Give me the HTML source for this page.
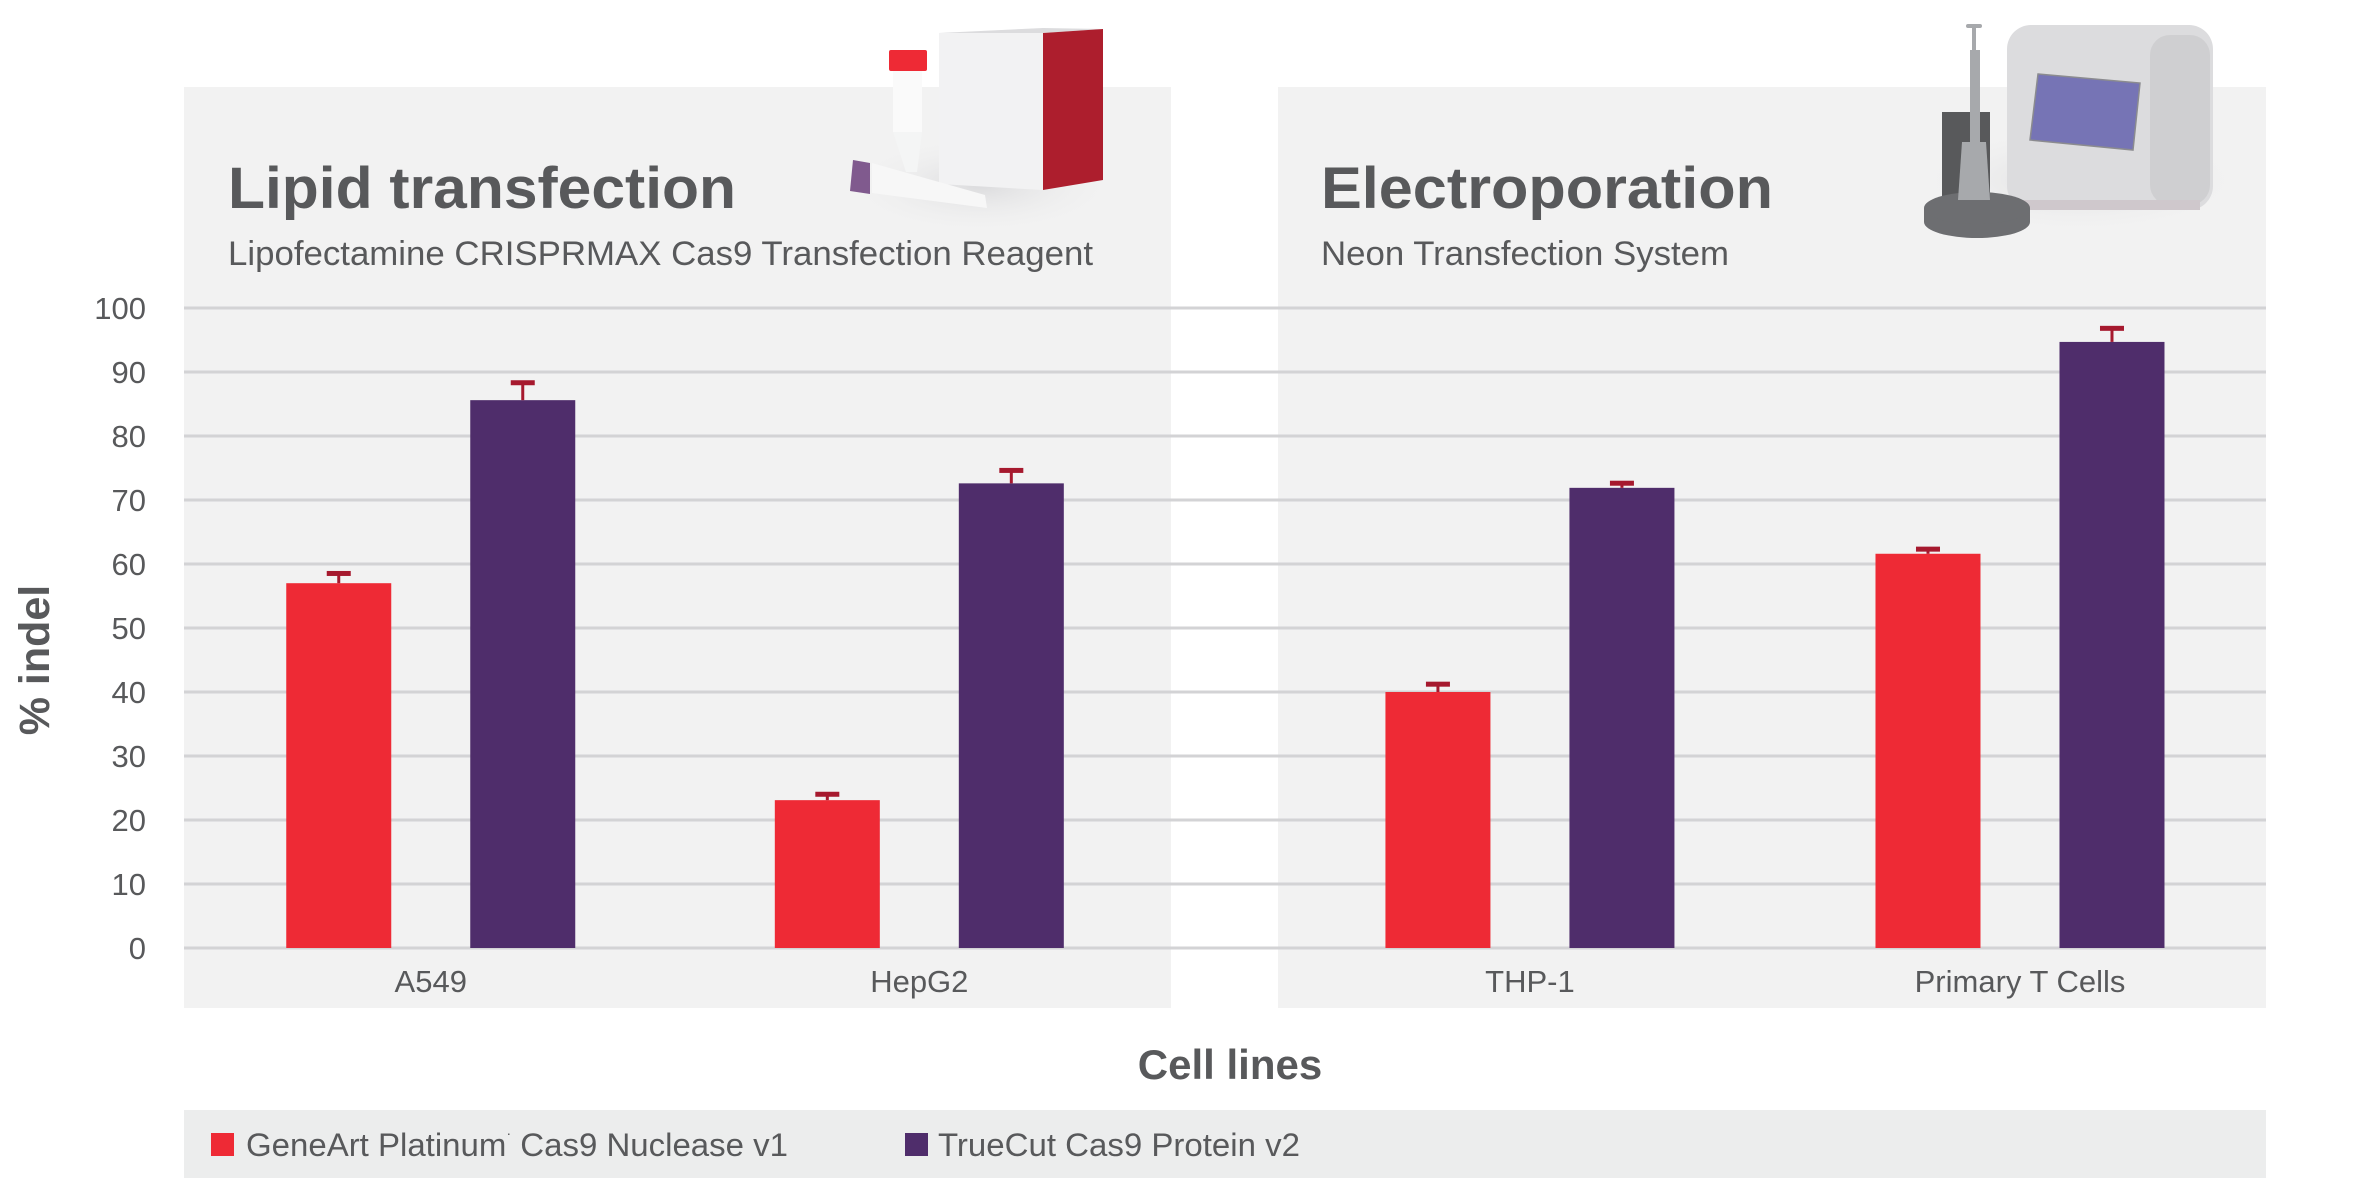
<!DOCTYPE html>
<html><head><meta charset="utf-8"><style>
html,body{margin:0;padding:0;background:#fff;}
svg{display:block;font-family:"Liberation Sans",sans-serif;}
</style></head><body>
<svg id="chart" width="2356" height="1178" viewBox="0 0 2356 1178" xmlns="http://www.w3.org/2000/svg">
<defs>
<radialGradient id="glow" cx="50%" cy="50%" r="50%"><stop offset="0" stop-color="#d8d8da" stop-opacity="0.9"/><stop offset="1" stop-color="#f2f2f2" stop-opacity="0"/></radialGradient>
</defs>
<rect x="184" y="87" width="987" height="921" fill="#f2f2f2"/>
<rect x="1278" y="87" width="988" height="921" fill="#f2f2f2"/>
<rect x="184" y="1110" width="2082" height="68" fill="#eceded"/>

<g>
<ellipse cx="980" cy="185" rx="140" ry="50" fill="url(#glow)"/>
<polygon points="939,33 1043,28 1103,29 1043,33" fill="#dcdcde"/>
<polygon points="939,33 1043,33 1043,190 939,184" fill="#f2f2f3"/>
<polygon points="1043,33 1103,29 1103,180 1043,190" fill="#ad1e2d"/>
<rect x="893" y="70" width="29" height="62" fill="#fafafa"/>
<polygon points="893,132 922,132 917,172 906,172" fill="#f4f5f5"/>
<rect x="889" y="50" width="38" height="21" rx="2" fill="#ee2a35"/>
<polygon points="872,163 985,195 987,208 872,193" fill="#f7f7f7"/>
<polygon points="853,160 870,163 870,194 850,191" fill="#805a8e"/>
</g>
<g>
<ellipse cx="2080" cy="180" rx="170" ry="55" fill="url(#glow)"/>
<rect x="2007" y="25" width="206" height="185" rx="24" fill="#dcdcde"/>
<rect x="2150" y="35" width="60" height="170" rx="20" fill="#cfcfd1"/>
<rect x="2010" y="200" width="190" height="10" fill="#cfc8cc"/>
<polygon points="2038,74 2140,83 2133,150 2030,140" fill="#7674b5" stroke="#8b8b8f" stroke-width="1.5"/>
<rect x="1942" y="112" width="48" height="88" fill="#58595b"/>
<ellipse cx="1977" cy="222" rx="53" ry="16" fill="#6d6e71"/>
<rect x="1924" y="208" width="106" height="14" fill="#6d6e71"/>
<ellipse cx="1977" cy="208" rx="53" ry="16" fill="#6d6e71"/>
<rect x="1970" y="50" width="10" height="95" fill="#a7a9ac"/>
<rect x="1966" y="24" width="16" height="4" rx="2" fill="#a7a9ac"/>
<rect x="1972" y="26" width="4" height="30" fill="#a7a9ac"/>
<polygon points="1962,142 1986,142 1990,200 1958,200" fill="#a7a9ac"/>
</g>

<text x="228" y="208" font-size="58" font-weight="bold" fill="#58595b" textLength="508" lengthAdjust="spacingAndGlyphs">Lipid transfection</text>
<text x="228" y="265" font-size="34" fill="#58595b" textLength="865" lengthAdjust="spacingAndGlyphs">Lipofectamine CRISPRMAX Cas9 Transfection Reagent</text>
<text x="1321" y="208" font-size="58" font-weight="bold" fill="#58595b" textLength="452" lengthAdjust="spacingAndGlyphs">Electroporation</text>
<text x="1321" y="265" font-size="34" fill="#58595b" textLength="408" lengthAdjust="spacingAndGlyphs">Neon Transfection System</text>

<g id="grid"></g>
<g id="yticks"></g>
<g id="bars"></g>
<g id="xlabels"></g>

<text transform="translate(49,660) rotate(-90)" text-anchor="middle" font-size="43" font-weight="bold" fill="#58595b">% indel</text>
<text x="1230" y="1079" text-anchor="middle" font-size="42" font-weight="bold" fill="#58595b">Cell lines</text>

<g>
<rect x="211" y="1133" width="23" height="23" fill="#ee2a35"/>
<text x="246" y="1156" font-size="32" fill="#58595b" textLength="542" lengthAdjust="spacingAndGlyphs">GeneArt Platinum<tspan font-size="14" dy="-18">·</tspan><tspan dy="18"> Cas9 Nuclease v1</tspan></text>
<rect x="905" y="1133" width="23" height="23" fill="#4f2d6b"/>
<text x="938" y="1156" font-size="32" fill="#58595b" textLength="362" lengthAdjust="spacingAndGlyphs">TrueCut Cas9 Protein v2</text>
</g>
</svg>
<script>
const categories = ["A549", "HepG2", "THP-1", "Primary T Cells"];
const categoryPanel = [0, 0, 1, 1];
const geneartValues = [57.0, 23.1, 40.0, 61.6];
const geneartErrors = [1.6, 1.0, 1.3, 0.8];
const truecutValues = [85.6, 72.6, 71.9, 94.7];
const truecutErrors = [2.8, 2.1, 0.8, 2.2];
const yTicks = [0, 10, 20, 30, 40, 50, 60, 70, 80, 90, 100];

const NS = "http://www.w3.org/2000/svg";
const panels = [{x:184, w:987, slots:[0.25, 0.745]}, {x:1278, w:988, slots:[0.255, 0.751]}];
const Y0 = 948, Y100 = 308;
function yScale(v){ return Y0 - (v/100)*(Y0-Y100); }
function xCenter(i){
  const p = panels[categoryPanel[i]];
  const idx = categoryPanel.slice(0, i).filter(c => c === categoryPanel[i]).length;
  return p.x + p.w*p.slots[idx];
}
function mk(tag, attrs, parent){
  const el = document.createElementNS(NS, tag);
  for (const k in attrs) el.setAttribute(k, attrs[k]);
  parent.appendChild(el); return el;
}
const grid = document.getElementById('grid');
const yt = document.getElementById('yticks');
yTicks.forEach(t => {
  const y = yScale(t);
  const l = mk('line', {x1:184, x2:2266, y1:y, y2:y, stroke:'#d3d3d5', 'stroke-width':3}, grid);
  
  
  const tx = mk('text', {x:146, y:y+11, 'text-anchor':'end', 'font-size':31, fill:'#58595b'}, yt);
  tx.textContent = t;
  
  
});
const bars = document.getElementById('bars');
const xl = document.getElementById('xlabels');
const BW = 105, OFF = 92;
function drawBar(cx, v, e, color, name){
  const top = yScale(v);
  const r = mk('rect', {x:cx-BW/2, y:top, width:BW, height:Y0-top, fill:color}, bars);
  
  
  const et = yScale(v+e);
  const g = mk('g', {}, bars);
  
  
  mk('rect', {x:cx-1.5, y:et, width:3, height:top-et, fill:'#a6192e'}, g);
  mk('rect', {x:cx-12, y:et-2, width:24, height:5, fill:'#a6192e'}, g);
}
categories.forEach((c, i) => {
  const cx = xCenter(i);
  const slug = c.toLowerCase().replace(/\s+/g, '-');
  drawBar(cx-OFF, geneartValues[i], geneartErrors[i], '#ee2a35', 'geneart-' + slug);
  drawBar(cx+OFF, truecutValues[i], truecutErrors[i], '#4f2d6b', 'truecut-' + slug);
  const t = mk('text', {x:cx, y:992, 'text-anchor':'middle', 'font-size':31, fill:'#58595b'}, xl);
  t.textContent = c;
  
  
});
</script>
</body></html>
